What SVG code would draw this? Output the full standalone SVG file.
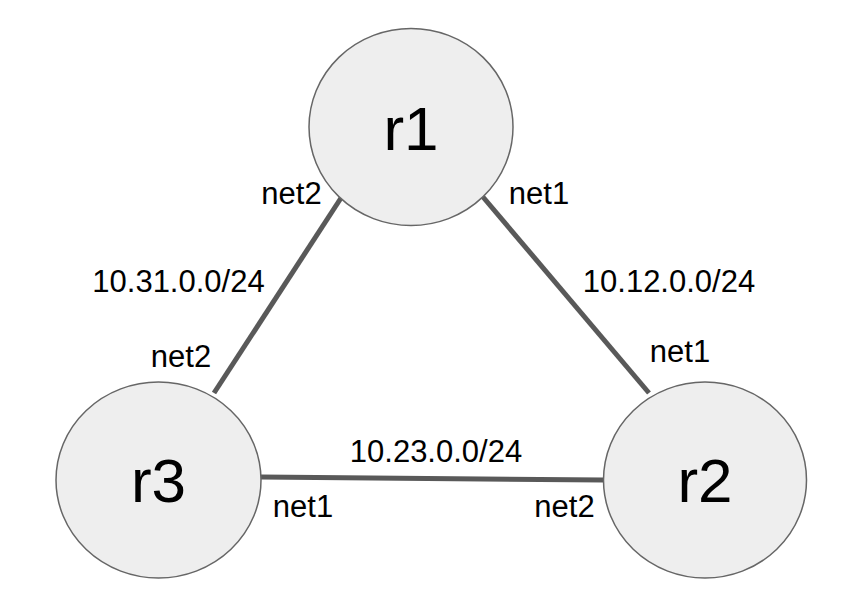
<svg xmlns="http://www.w3.org/2000/svg" width="841" height="611" viewBox="0 0 841 611">
<style>
.node ellipse{fill:#eeeeee;stroke:#666666;stroke-width:1.5}
.nl{font-family:"Liberation Sans",Arial,sans-serif;font-size:62px;fill:#000;text-anchor:middle}
.lb{font-family:"Liberation Sans",Arial,sans-serif;font-size:31px;fill:#000;text-anchor:middle}
#edges line{stroke:#595959;stroke-width:5;stroke-linecap:butt}
</style>
<rect width="841" height="611" fill="#ffffff"/>
<g id="edges">
<line x1="341" y1="198" x2="214" y2="393"/>
<line x1="483" y1="197" x2="649" y2="393"/>
<line x1="261" y1="477" x2="603" y2="480"/>
</g>
<g id="r1" class="node"><ellipse cx="411" cy="127" rx="102" ry="98.5"/><text class="nl" x="411" y="150">r1</text></g>
<g id="r3" class="node"><ellipse cx="158.5" cy="480" rx="102.5" ry="98"/><text class="nl" x="158.5" y="502">r3</text></g>
<g id="r2" class="node"><ellipse cx="705" cy="480" rx="101.5" ry="98"/><text class="nl" x="705" y="502">r2</text></g>
<g id="labels">
<text class="lb" x="291.5" y="204">net2</text>
<text class="lb" x="539" y="204">net1</text>
<text class="lb" x="178.5" y="292">10.31.0.0/24</text>
<text class="lb" x="669" y="292">10.12.0.0/24</text>
<text class="lb" x="181" y="367">net2</text>
<text class="lb" x="680" y="362">net1</text>
<text class="lb" x="436" y="462">10.23.0.0/24</text>
<text class="lb" x="303" y="517">net1</text>
<text class="lb" x="564.5" y="517">net2</text>
</g>
</svg>
